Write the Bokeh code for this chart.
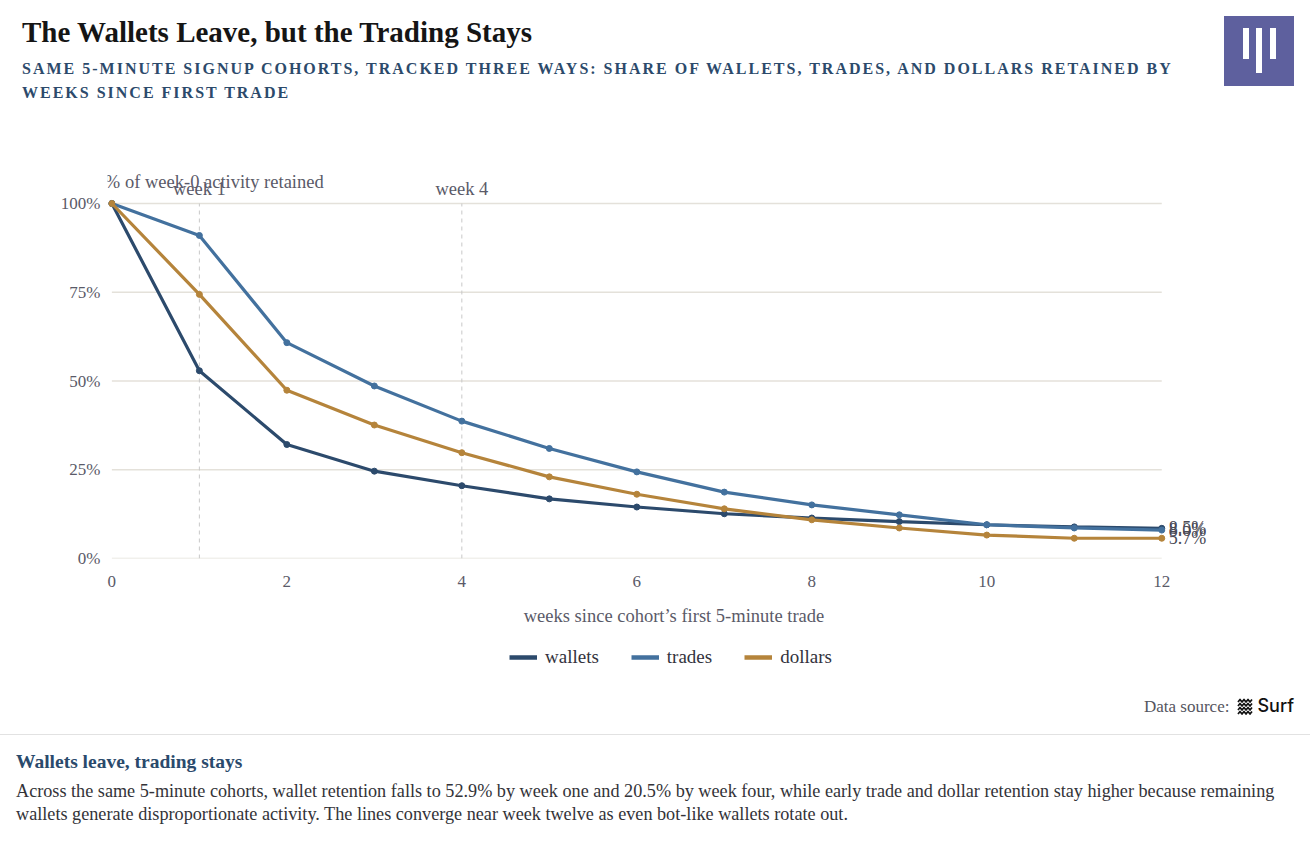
from bokeh.plotting import figure
from bokeh.models import (ColumnDataSource, FixedTicker, Label, Legend, LegendItem,
                          Div, Range1d)
from bokeh.layouts import column
from bokeh.embed import file_html
from bokeh.resources import INLINE

# ---------------- data ----------------
weeks = [0, 1, 2, 3, 4, 5, 6, 7, 8, 9, 10, 11, 12]
wallets = [100, 52.9, 32.1, 24.6, 20.5, 16.8, 14.5, 12.6, 11.4, 10.4, 9.5, 8.9, 8.5]
trades = [100, 91.0, 60.8, 48.6, 38.7, 31.0, 24.4, 18.7, 15.1, 12.3, 9.5, 8.6, 8.0]
dollars = [100, 74.4, 47.4, 37.6, 29.8, 23.0, 18.1, 14.0, 10.9, 8.6, 6.6, 5.7, 5.7]
series_names = ["wallets", "trades", "dollars"]
end_labels = ["8.5%", "8.0%", "5.7%"]

y_ticks = [0, 25, 50, 75, 100]
y_tick_labels = ["0%", "25%", "50%", "75%", "100%"]
x_ticks = [0, 2, 4, 6, 8, 10, 12]
x_tick_labels = ["0", "2", "4", "6", "8", "10", "12"]
marker_weeks = [1, 4]
marker_labels = ["week 1", "week 4"]

title_text = "The Wallets Leave, but the Trading Stays"
subtitle_l1 = ("SAME 5-MINUTE SIGNUP COHORTS, TRACKED THREE WAYS: SHARE OF WALLETS, "
               "TRADES, AND DOLLARS RETAINED BY")
subtitle_l2 = "WEEKS SINCE FIRST TRADE"
y_title = "% of week-0 activity retained"
x_title = "weeks since cohort\u2019s first 5-minute trade"
note_head = "Wallets leave, trading stays"
note_l1 = ("Across the same 5-minute cohorts, wallet retention falls to 52.9% by week one "
           "and 20.5% by week four, while early trade and dollar retention stay higher "
           "because remaining")
note_l2 = ("wallets generate disproportionate activity. The lines converge near week twelve "
           "as even bot-like wallets rotate out.")

# ---------------- style ----------------
FONT = "Liberation Serif"
COLORS = ["#2c4a6c", "#43719e", "#b5843b"]
GRID = "#e4e1da"
TXT = "#5a5a68"

W = 1310
series_values = [wallets, trades, dollars]

# ---------------- header ----------------
header_html = f"""
<div style="position:relative;width:{W}px;height:120px;font-family:'{FONT}',serif;">
  <div style="position:absolute;left:22px;top:17px;font-size:29px;font-weight:bold;
              color:#151515;line-height:30px;white-space:nowrap;">{title_text}</div>
  <div style="position:absolute;left:22px;top:57px;font-size:16px;font-weight:bold;
              letter-spacing:2.0px;color:#2c4a6b;line-height:24px;white-space:nowrap;">
       {subtitle_l1}<br>{subtitle_l2}</div>
  <div style="position:absolute;left:1224px;top:16px;width:70px;height:70px;background:#5e609e;">
    <div style="position:absolute;left:19px;top:12px;width:6px;height:31px;background:#fff;"></div>
    <div style="position:absolute;left:32px;top:12px;width:6px;height:45px;background:#fff;"></div>
    <div style="position:absolute;left:46px;top:12px;width:6px;height:31px;background:#fff;"></div>
  </div>
</div>
"""
header = Div(text=header_html, width=W, height=120, margin=(0, 0, 0, 0))

# ---------------- main figure ----------------
p = figure(width=W, height=520, output_backend="svg", toolbar_location=None,
           x_range=Range1d(-0.05, 12.9), y_range=Range1d(0, 109.86),
           min_border_left=107, min_border_right=70, min_border_top=48,
           min_border_bottom=82)
p.outline_line_color = None
p.xgrid.visible = False
p.ygrid.visible = False
p.background_fill_color = "white"
p.border_fill_color = "white"

# gridlines (only over data span)
p.segment(x0=[weeks[0]] * len(y_ticks), x1=[weeks[-1]] * len(y_ticks),
          y0=y_ticks, y1=y_ticks, line_color=GRID, line_width=1.3)
# week markers
p.segment(x0=marker_weeks, x1=marker_weeks, y0=[y_ticks[0]] * 2, y1=[y_ticks[-1]] * 2,
          line_color="#c8c8c8", line_width=1, line_dash="4 4")
for wk, lab in zip(marker_weeks, marker_labels):
    p.add_layout(Label(x=wk, y=y_ticks[-1], y_offset=5, text=lab, text_align="center",
                       text_baseline="bottom", text_font=FONT, text_font_size="18.5px",
                       text_color=TXT))

for name, vals, col, lab in zip(series_names, series_values, COLORS, end_labels):
    src = ColumnDataSource(dict(x=weeks, y=vals))
    p.line("x", "y", source=src, line_color=col, line_width=3.2)
    p.scatter("x", "y", source=src, size=6, fill_color=col, line_color=col)
    p.add_layout(Label(x=weeks[-1], y=vals[-1], x_offset=7, text=lab, text_align="left",
                       text_baseline="middle", text_font=FONT, text_font_size="18px",
                       text_color="#4a4a55"))

p.add_layout(Label(x=weeks[0], y=y_ticks[-1], x_offset=-7, y_offset=12, text=y_title,
                   text_align="left", text_baseline="bottom", text_font=FONT,
                   text_font_size="18.5px", text_color=TXT))

# axes
p.yaxis.ticker = FixedTicker(ticks=y_ticks)
p.yaxis.major_label_overrides = {t: l for t, l in zip(y_ticks, y_tick_labels)}
p.xaxis.ticker = FixedTicker(ticks=x_ticks)
p.xaxis.major_label_overrides = {t: l for t, l in zip(x_ticks, x_tick_labels)}
for ax in (p.xaxis, p.yaxis):
    ax.axis_line_color = None
    ax.major_tick_line_color = None
    ax.minor_tick_line_color = None
    ax.major_label_text_font = FONT
    ax.major_label_text_font_size = "17px"
    ax.major_label_text_color = TXT
p.yaxis.major_label_standoff = 1
p.xaxis.major_label_standoff = 11
p.xaxis.axis_label = x_title
p.xaxis.axis_label_text_font = FONT
p.xaxis.axis_label_text_font_size = "18.5px"
p.xaxis.axis_label_text_font_style = "normal"
p.xaxis.axis_label_text_color = TXT
p.xaxis.axis_label_standoff = 16

# ---------------- legend strip ----------------
# the same series drawn in a strip whose ranges keep them out of view; only the legend shows
lg = figure(width=W, height=50, output_backend="svg", toolbar_location=None,
            x_range=Range1d(-1, -0.5), y_range=Range1d(-1, -0.5),
            x_axis_type=None, y_axis_type=None,
            min_border_left=0, min_border_right=0, min_border_top=0, min_border_bottom=0)
lg.outline_line_color = None
lg.xgrid.visible = False
lg.ygrid.visible = False
lg_renderers = [lg.line(x=weeks, y=vals, line_color=col, line_width=4.5)
                for vals, col in zip(series_values, COLORS)]
legend = Legend(items=[LegendItem(label=n, renderers=[r]) for n, r in zip(series_names, lg_renderers)],
                orientation="horizontal", location=(402, 22))
legend.background_fill_alpha = 0
legend.border_line_color = None
legend.padding = 0
legend.margin = 0
legend.spacing = 32
legend.label_standoff = 8
legend.glyph_width = 28
legend.glyph_height = 20
legend.label_text_font = FONT
legend.label_text_font_size = "19px"
legend.label_text_color = "#33333d"
lg.add_layout(legend)

# ---------------- footer ----------------
surf_icon = """<svg width="17" height="17" viewBox="0 0 17 17" style="vertical-align:-3px;">
<g fill="none" stroke="#111" stroke-width="1.7" stroke-linejoin="round">
<path d="M1 4 L3 1.5 L5 4 L7 1.5 L9 4 L11 1.5 L13 4 L15 1.5"/>
<path d="M1 8 L3 5.5 L5 8 L7 5.5 L9 8 L11 5.5 L13 8 L15 5.5"/>
<path d="M1 12 L3 9.5 L5 12 L7 9.5 L9 12 L11 9.5 L13 12 L15 9.5"/>
<path d="M1 16 L3 13.5 L5 16 L7 13.5 L9 16 L11 13.5 L13 16 L15 13.5"/>
</g></svg>"""
footer_html = f"""
<div style="position:relative;width:{W}px;height:152px;font-family:'{FONT}',serif;">
  <div style="position:absolute;right:16px;top:5px;line-height:22px;white-space:nowrap;">
    <span style="font-size:17px;color:#555560;">Data source:</span>
    <span style="display:inline-block;width:5px;"></span>{surf_icon}<span
      style="font-family:Inter,Roboto,sans-serif;font-size:18px;font-weight:500;color:#111;
             margin-left:3px;">Surf</span>
  </div>
  <div style="position:absolute;left:0px;top:44px;width:{W}px;border-top:1px solid #e2e2e2;"></div>
  <div style="position:absolute;left:16px;top:61px;font-size:19.5px;font-weight:bold;color:#2a4a6c;
              line-height:22px;white-space:nowrap;">{note_head}</div>
  <div style="position:absolute;left:16px;top:90px;font-size:18.2px;color:#333338;line-height:23px;
              white-space:nowrap;">{note_l1}<br>{note_l2}</div>
</div>
"""
footer = Div(text=footer_html, width=W, height=152, margin=(0, 0, 0, 0))

layout = column(header, p, lg, footer, spacing=0)
open("out.html", "w").write(file_html(layout, INLINE))
